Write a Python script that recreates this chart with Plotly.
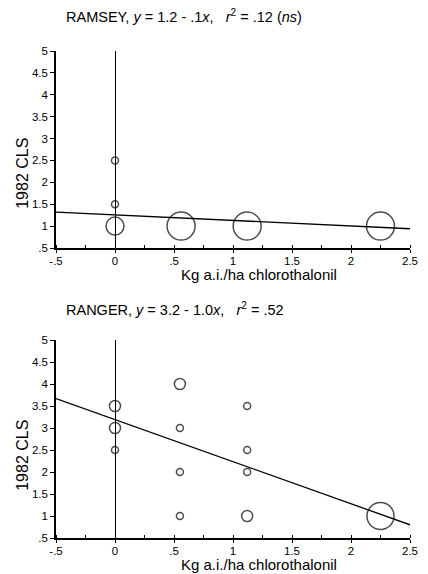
import plotly.graph_objects as go
from plotly.subplots import make_subplots
import math

# ---- data ----
ramsey_x = [0, 0, 0, 0.56, 1.12, 2.25]
ramsey_y = [2.5, 1.5, 1.0, 1.0, 1.0, 1.0]
ramsey_w = [1, 1, 6.6, 16, 16, 16]          # relative number of observations
ramsey_fit_x = [-0.5, 2.5]
ramsey_fit_y = [1.32, 0.94]

ranger_x = [0, 0, 0, 0.55, 0.55, 0.55, 0.55, 1.12, 1.12, 1.12, 1.12, 2.25]
ranger_y = [3.5, 3.0, 2.5, 4.0, 3.0, 2.0, 1.0, 3.5, 2.5, 2.0, 1.0, 1.0]
ranger_w = [2.5, 2.5, 1, 2.5, 1, 1, 1, 1, 1, 1, 2.5, 15]
ranger_fit_x = [-0.5, 2.5]
ranger_fit_y = [3.67, 0.80]

x_tickvals = [-0.5, 0, 0.5, 1, 1.5, 2, 2.5]
x_ticktext = ["-.5", "0", ".5", "1", "1.5", "2", "2.5"]
y_tickvals = [0.5, 1, 1.5, 2, 2.5, 3, 3.5, 4, 4.5, 5]
y_ticktext = [".5", "1", "1.5", "2", "2.5", "3", "3.5", "4", "4.5", "5"]

title_top = "RAMSEY, <i>y</i> = 1.2 - .1<i>x</i>,   <i>r</i><sup>2</sup> = .12 (<i>ns</i>)"
title_bot = "RANGER, <i>y</i> = 3.2 - 1.0<i>x</i>,   <i>r</i><sup>2</sup> = .52"
x_title = "Kg a.i./ha chlorothalonil"
y_title = "1982 CLS"

FONT = "Liberation Sans"
W, H = 428, 574
ML, MR, MT, MB = 56, 10, 51, 36
PW, PH = W - ML - MR, H - MT - MB

def px_x(p):
    return (p - ML) / PW

def px_y(p):
    return (H - MB - p) / PH

def diam(w):
    return 7 * math.sqrt(w)

fig = make_subplots(rows=2, cols=1, vertical_spacing=0.19)

for row, (xs, ys, ws, fx, fy) in enumerate(
        [(ramsey_x, ramsey_y, ramsey_w, ramsey_fit_x, ramsey_fit_y),
         (ranger_x, ranger_y, ranger_w, ranger_fit_x, ranger_fit_y)], start=1):
    fig.add_trace(go.Scatter(x=fx, y=fy, mode="lines",
                             line=dict(color="black", width=1.3),
                             showlegend=False, hoverinfo="skip"), row=row, col=1)
    fig.add_trace(go.Scatter(x=xs, y=ys, mode="markers",
                             marker=dict(symbol="circle-open", color="black",
                                         size=[diam(w) for w in ws],
                                         line=dict(color="black", width=1.5)),
                             showlegend=False), row=row, col=1)

top_dom = [px_y(248), 1.0]
bot_dom = [0.0, px_y(340)]

axis_common_x = dict(range=[-0.5, 2.5], tickvals=x_tickvals, ticktext=x_ticktext,
                     ticks="outside", ticklen=3, tickwidth=1.3, tickcolor="black",
                     ticklabelstandoff=-2,
                     showline=True, linecolor="black", linewidth=1.5,
                     showgrid=False, zeroline=True, zerolinecolor="black",
                     zerolinewidth=1.2,
                     tickfont=dict(size=11.5, color="black", family=FONT),
                     minor=dict(dtick=0.25, tick0=0, ticks="inside", ticklen=3,
                                tickcolor="black", tickwidth=1, showgrid=False))
axis_common_y = dict(range=[0.5, 5], tickvals=y_tickvals, ticktext=y_ticktext,
                     ticks="outside", ticklen=4, tickwidth=1.3, tickcolor="black",
                     showline=True, linecolor="black", linewidth=1.5,
                     showgrid=False, zeroline=False,
                     tickfont=dict(size=11.5, color="black", family=FONT))

fig.update_xaxes(**axis_common_x)
fig.update_yaxes(**axis_common_y)
fig.update_layout(yaxis=dict(domain=top_dom), yaxis2=dict(domain=bot_dom))

# panel titles
for txt, yp in [(title_top, 16), (title_bot, 309)]:
    fig.add_annotation(text=txt, xref="paper", yref="paper", x=px_x(64), y=px_y(yp),
                       xanchor="left", yanchor="middle", showarrow=False,
                       font=dict(size=14.5, color="black", family=FONT))
# x-axis titles
for yp in [274, 564]:
    fig.add_annotation(text=x_title, xref="paper", yref="paper", x=px_x(264), y=px_y(yp),
                       xanchor="center", yanchor="middle", showarrow=False,
                       font=dict(size=15, color="black", family=FONT))
# y-axis titles
for yp in [173, 455]:
    fig.add_annotation(text=y_title, xref="paper", yref="paper", x=px_x(21), y=px_y(yp),
                       xanchor="center", yanchor="middle", showarrow=False, textangle=-90,
                       font=dict(size=16, color="black", family=FONT))

fig.update_layout(width=W, height=H, margin=dict(l=ML, r=MR, t=MT, b=MB),
                  plot_bgcolor="white", paper_bgcolor="white",
                  font=dict(family=FONT, color="black"))

fig.write_html("out.html")
